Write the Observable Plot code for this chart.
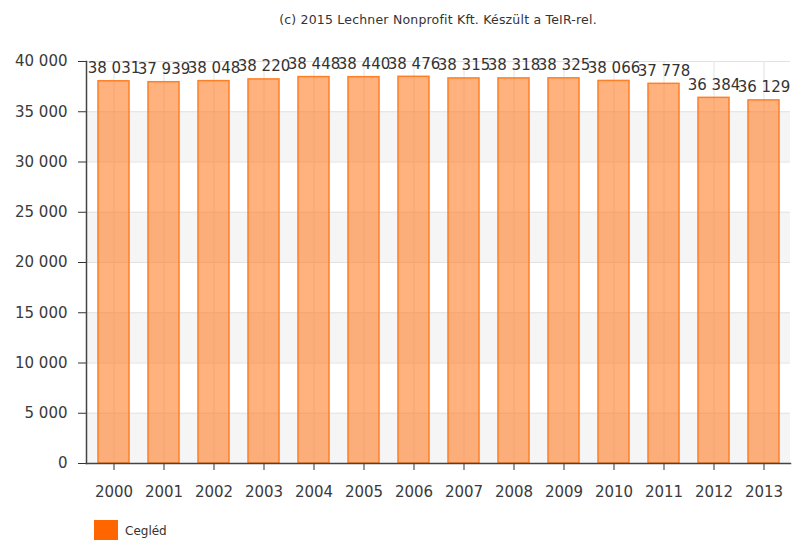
<!DOCTYPE html>
<html><head><meta charset="utf-8">
<script src="https://cdn.jsdelivr.net/npm/d3@7"></script>
<script src="https://cdn.jsdelivr.net/npm/@observablehq/plot@0.6"></script>
<style>
html,body{margin:0;padding:0;background:#fff;overflow:hidden;}
body{font-family:"DejaVu Sans",Verdana,sans-serif;width:792px;height:541px;}
#title{height:40px;line-height:40px;margin-left:86px;width:704px;text-align:center;font-size:12.5px;letter-spacing:0.2px;color:#333;}
#chart svg{display:block;}
#legend{margin-top:10px;padding-left:94px;height:31px;display:flex;align-items:flex-start;}
#legend .sw{display:inline-block;width:24px;height:20px;background:#ff6600;}
#legend .lb{margin-left:7px;font-size:12px;line-height:22px;color:#333;}
</style></head><body>
<div id="title">(c) 2015 Lechner Nonprofit Kft. Készült a TeIR-rel.</div>
<div id="chart"></div>
<div id="legend"><span class="sw"></span><span class="lb">Cegléd</span></div>
<script>
const years = ["2000","2001","2002","2003","2004","2005","2006","2007","2008","2009","2010","2011","2012","2013"];
const values = [38031,37939,38048,38220,38448,38440,38476,38315,38318,38325,38066,37778,36384,36129];
const yTicks = [0,5000,10000,15000,20000,25000,30000,35000,40000];
const seriesName = "Cegléd";

const fmt = d => d3.format(",")(d).replace(/,/g, " ");
const data = years.map((y, i) => ({year: y, value: values[i]}));
const bands = yTicks.slice(0, -1).map((t, i) => ({y1: t, y2: yTicks[i + 1], even: i % 2 === 0})).filter(d => d.even);

const chart = Plot.plot({
  width: 792, height: 470,
  marginLeft: 86, marginRight: 2, marginTop: 21, marginBottom: 47,
  style: {fontFamily: '"DejaVu Sans", Verdana, sans-serif', color: "#3a3a3a", background: "transparent"},
  x: {domain: years, paddingInner: 0.38, paddingOuter: 0.19, label: null},
  y: {domain: [0, 40000], label: null},
  marks: [
    Plot.rect(bands, {y1: "y1", y2: "y2", fill: "#f5f5f5"}),
    Plot.gridY(yTicks, {stroke: "#e2e2e2", strokeOpacity: 1}),
    Plot.gridX(years, {stroke: "#e2e2e2", strokeOpacity: 1}),
    Plot.barY(data, {x: "year", y: "value", fill: "#ff7f27", fillOpacity: 0.6, stroke: "#ff7f27", strokeWidth: 1.5}),
    Plot.text(data, {x: "year", y: "value", text: d => fmt(d.value), lineAnchor: "bottom", dy: -8, fontSize: 15, fill: "#333"}),
    Plot.axisY(yTicks, {tickFormat: fmt, tickSize: 8, tickPadding: 11, fontSize: 15, label: null, stroke: "#333"}),
    Plot.axisX({tickSize: 7, tickPadding: 16, fontSize: 15, label: null, stroke: "#333"}),
    Plot.frame({anchor: "left", stroke: "#444", strokeWidth: 1.5}),
    Plot.frame({anchor: "bottom", stroke: "#444", strokeWidth: 1.5})
  ]
});
document.getElementById("chart").append(chart);
</script>
</body></html>
